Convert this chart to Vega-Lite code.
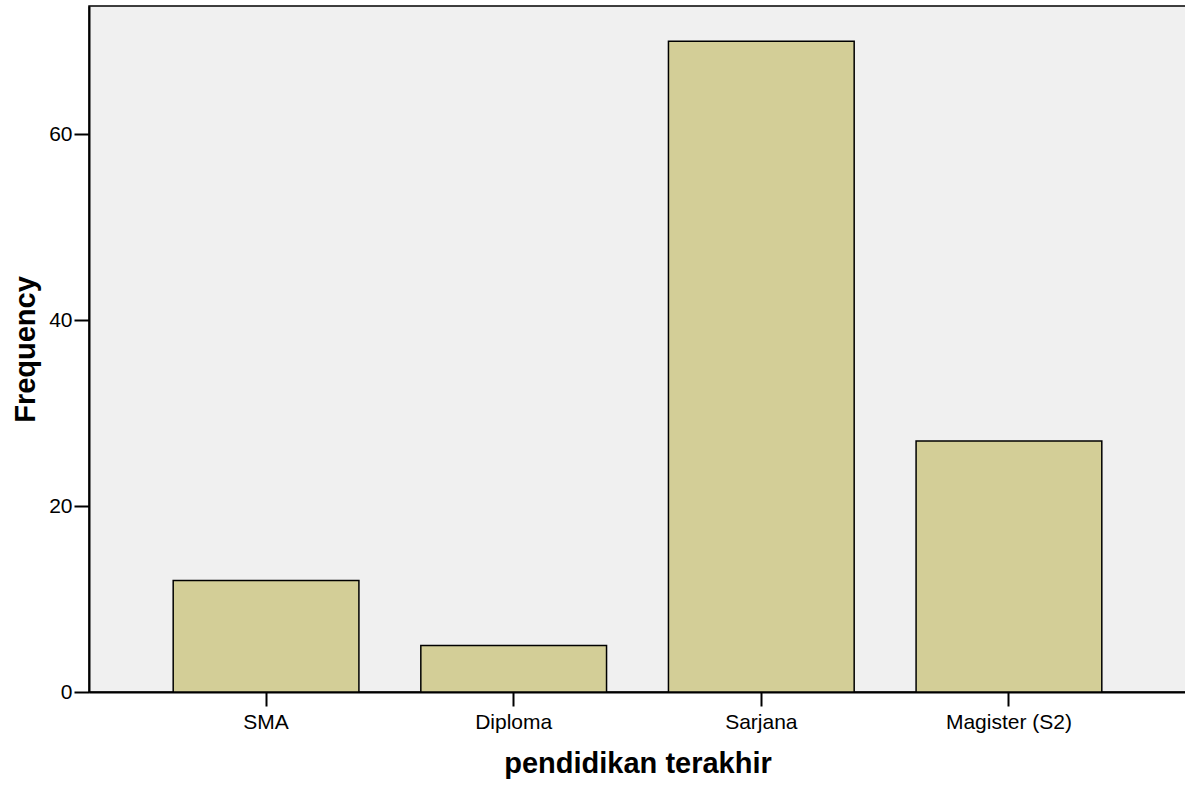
{
  "$schema": "https://vega.github.io/schema/vega-lite/v6.json",
  "width": 1097,
  "height": 686,
  "autosize": {"type": "none"},
  "padding": {"left": 89, "top": 6, "right": 0, "bottom": 98},
  "background": "#ffffff",
  "config": {
    "view": {"fill": "#f0f0f0", "stroke": "#000000", "strokeWidth": 1.5},
    "font": "Liberation Sans"
  },
  "data": {
    "values": [
      {"pendidikan": "SMA", "frequency": 12},
      {"pendidikan": "Diploma", "frequency": 5},
      {"pendidikan": "Sarjana", "frequency": 70},
      {"pendidikan": "Magister (S2)", "frequency": 27}
    ]
  },
  "mark": {"type": "bar", "fill": "#d3ce97", "stroke": "#000000", "strokeWidth": 1.5},
  "encoding": {
    "x": {
      "field": "pendidikan",
      "type": "nominal",
      "sort": null,
      "scale": {"paddingInner": 0.25, "paddingOuter": 0.34},
      "axis": {
        "title": "pendidikan terakhir",
        "titleFont": "Liberation Sans",
        "titleFontSize": 29,
        "titleFontWeight": "bold",
        "titleColor": "#000000",
        "titlePadding": 17,
        "labelFont": "Liberation Sans",
        "labelFontSize": 21,
        "labelColor": "#000000",
        "labelAngle": 0,
        "labelPadding": 5,
        "tickSize": 14,
        "tickWidth": 2,
        "tickColor": "#000000",
        "domainColor": "#000000",
        "domainWidth": 2
      }
    },
    "y": {
      "field": "frequency",
      "type": "quantitative",
      "scale": {"domain": [0, 73.8], "nice": false, "zero": true},
      "axis": {
        "title": "Frequency",
        "values": [0, 20, 40, 60],
        "grid": false,
        "titleFont": "Liberation Sans",
        "titleFontSize": 29,
        "titleFontWeight": "bold",
        "titleColor": "#000000",
        "titlePadding": 8,
        "labelFont": "Liberation Sans",
        "labelFontSize": 21,
        "labelColor": "#000000",
        "labelPadding": 2,
        "tickSize": 15,
        "tickWidth": 2,
        "tickColor": "#000000",
        "domainColor": "#000000",
        "domainWidth": 2
      }
    }
  }
}
